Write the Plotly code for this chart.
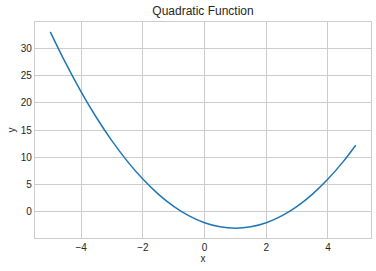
import plotly.graph_objects as go

# Values
x_vals = [-5.0, -4.5, -4.0, -3.5, -3.0, -2.5, -2.0, -1.5, -1.0, -0.5, 0.0,
          0.5, 1.0, 1.5, 2.0, 2.5, 3.0, 3.5, 4.0, 4.5, 4.9]
y_vals = [33.0, 27.25, 22.0, 17.25, 13.0, 9.25, 6.0, 3.25, 1.0, -0.75, -2.0,
          -2.75, -3.0, -2.75, -2.0, -0.75, 1.0, 3.25, 6.0, 9.25, 12.21]
x_ticks = [-4, -2, 0, 2, 4]
y_ticks = [0, 5, 10, 15, 20, 25, 30]

fig = go.Figure()
fig.add_trace(go.Scatter(x=x_vals, y=y_vals, mode="lines",
                         line=dict(color="#1f77b4", width=1.5, shape="spline"),
                         showlegend=False, hoverinfo="skip"))

font = dict(family="Liberation Sans, Arial", size=10, color="#262626")
axis_common = dict(showgrid=True, gridcolor="#cccccc", gridwidth=1,
                   showline=True, linecolor="#cccccc", linewidth=1.25, mirror=True,
                   zeroline=False, ticks="", tickfont=font)

fig.update_layout(
    width=376, height=271,
    margin=dict(l=35, r=5, t=22, b=33),
    paper_bgcolor="white", plot_bgcolor="white",
    title=dict(text="Quadratic Function", x=0.5, xanchor="center",
               xref="paper", y=1 - 11/271, yanchor="middle",
               font=dict(family="Liberation Sans, Arial", size=12, color="#262626")),
    xaxis=dict(range=[-5.495, 5.395], tickvals=x_ticks,
               title=dict(text="x", font=font, standoff=2), **axis_common),
    yaxis=dict(range=[-4.8, 34.8], tickvals=y_ticks,
               title=dict(text="y", font=font, standoff=3), **axis_common),
)

fig.write_html("out.html")
